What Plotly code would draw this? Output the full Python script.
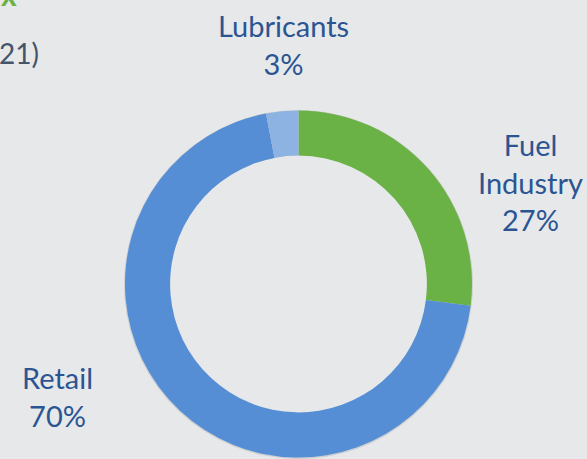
import plotly.graph_objects as go

# Share of sales by segment
segments = ["Fuel Industry", "Retail", "Lubricants"]
shares = [27, 70, 3]
segment_colors = ["#6AB245", "#558ED5", "#8DB3E2"]

# Label text blocks (segment name split over lines) and their anchor points in pixels
label_lines = {"Fuel Industry": "Fuel<br>Industry", "Retail": "Retail", "Lubricants": "Lubricants"}
label_pos = {"Fuel Industry": (530, 182), "Retail": (58, 396), "Lubricants": (283, 45)}

W, H = 587, 459
BG = "#E7E8EA"
LABEL_COLOR = "#2B5592"
FONT = "Lato, 'Open Sans', sans-serif"


def px_x(x):
    return x / W


def px_y(y):
    return 1 - y / H


def clamp(v):
    return min(1.0, max(0.0, v))


# Ring geometry in pixels
cx, cy, r = 298.5, 284.0, 173.5
hole = 0.74


def ring_domain(dx=0.0, dy=0.0, extra=0.0):
    return dict(
        x=[clamp(px_x(cx - r - extra + dx)), clamp(px_x(cx + r + extra + dx))],
        y=[clamp(px_y(cy + r + extra + dy)), clamp(px_y(cy - r - extra + dy))],
    )


fig = go.Figure()

# Soft drop shadow under the ring
fig.add_trace(go.Pie(
    labels=segments, values=shares, hole=hole, sort=False,
    direction="clockwise", rotation=0, textinfo="none", hoverinfo="skip",
    marker=dict(colors=["rgba(0,0,0,0.10)"] * 3, line=dict(width=0)),
    domain=ring_domain(dy=0.5, extra=1.0), showlegend=False,
))

fig.add_trace(go.Pie(
    labels=segments, values=shares, hole=hole, sort=False,
    direction="clockwise", rotation=0, textinfo="none",
    marker=dict(colors=segment_colors, line=dict(width=0)),
    domain=ring_domain(), showlegend=False,
))

annotations = []
total = sum(shares)
for name, val in zip(segments, shares):
    x, y = label_pos[name]
    annotations.append(dict(
        x=px_x(x), y=px_y(y), xref="paper", yref="paper",
        text=f"{label_lines[name]}<br>{round(100 * val / total)}%",
        showarrow=False, xanchor="center", yanchor="middle", align="center",
        font=dict(family=FONT, size=29, color=LABEL_COLOR),
    ))

# Fragments of the title running off the top-left corner
annotations.append(dict(
    x=px_x(41), y=px_y(53), xref="paper", yref="paper", text="21)",
    showarrow=False, xanchor="right", yanchor="middle",
    font=dict(family=FONT, size=28, color="#44546A"),
))
annotations.append(dict(
    x=px_x(19), y=px_y(14), xref="paper", yref="paper", text="<b>x</b>",
    showarrow=False, xanchor="right", yanchor="bottom",
    font=dict(family=FONT, size=30, color="#6AB245"),
))

fig.update_layout(
    width=W, height=H,
    margin=dict(l=0, r=0, t=0, b=0),
    paper_bgcolor=BG, plot_bgcolor=BG,
    annotations=annotations,
)

fig.write_html("out.html")
